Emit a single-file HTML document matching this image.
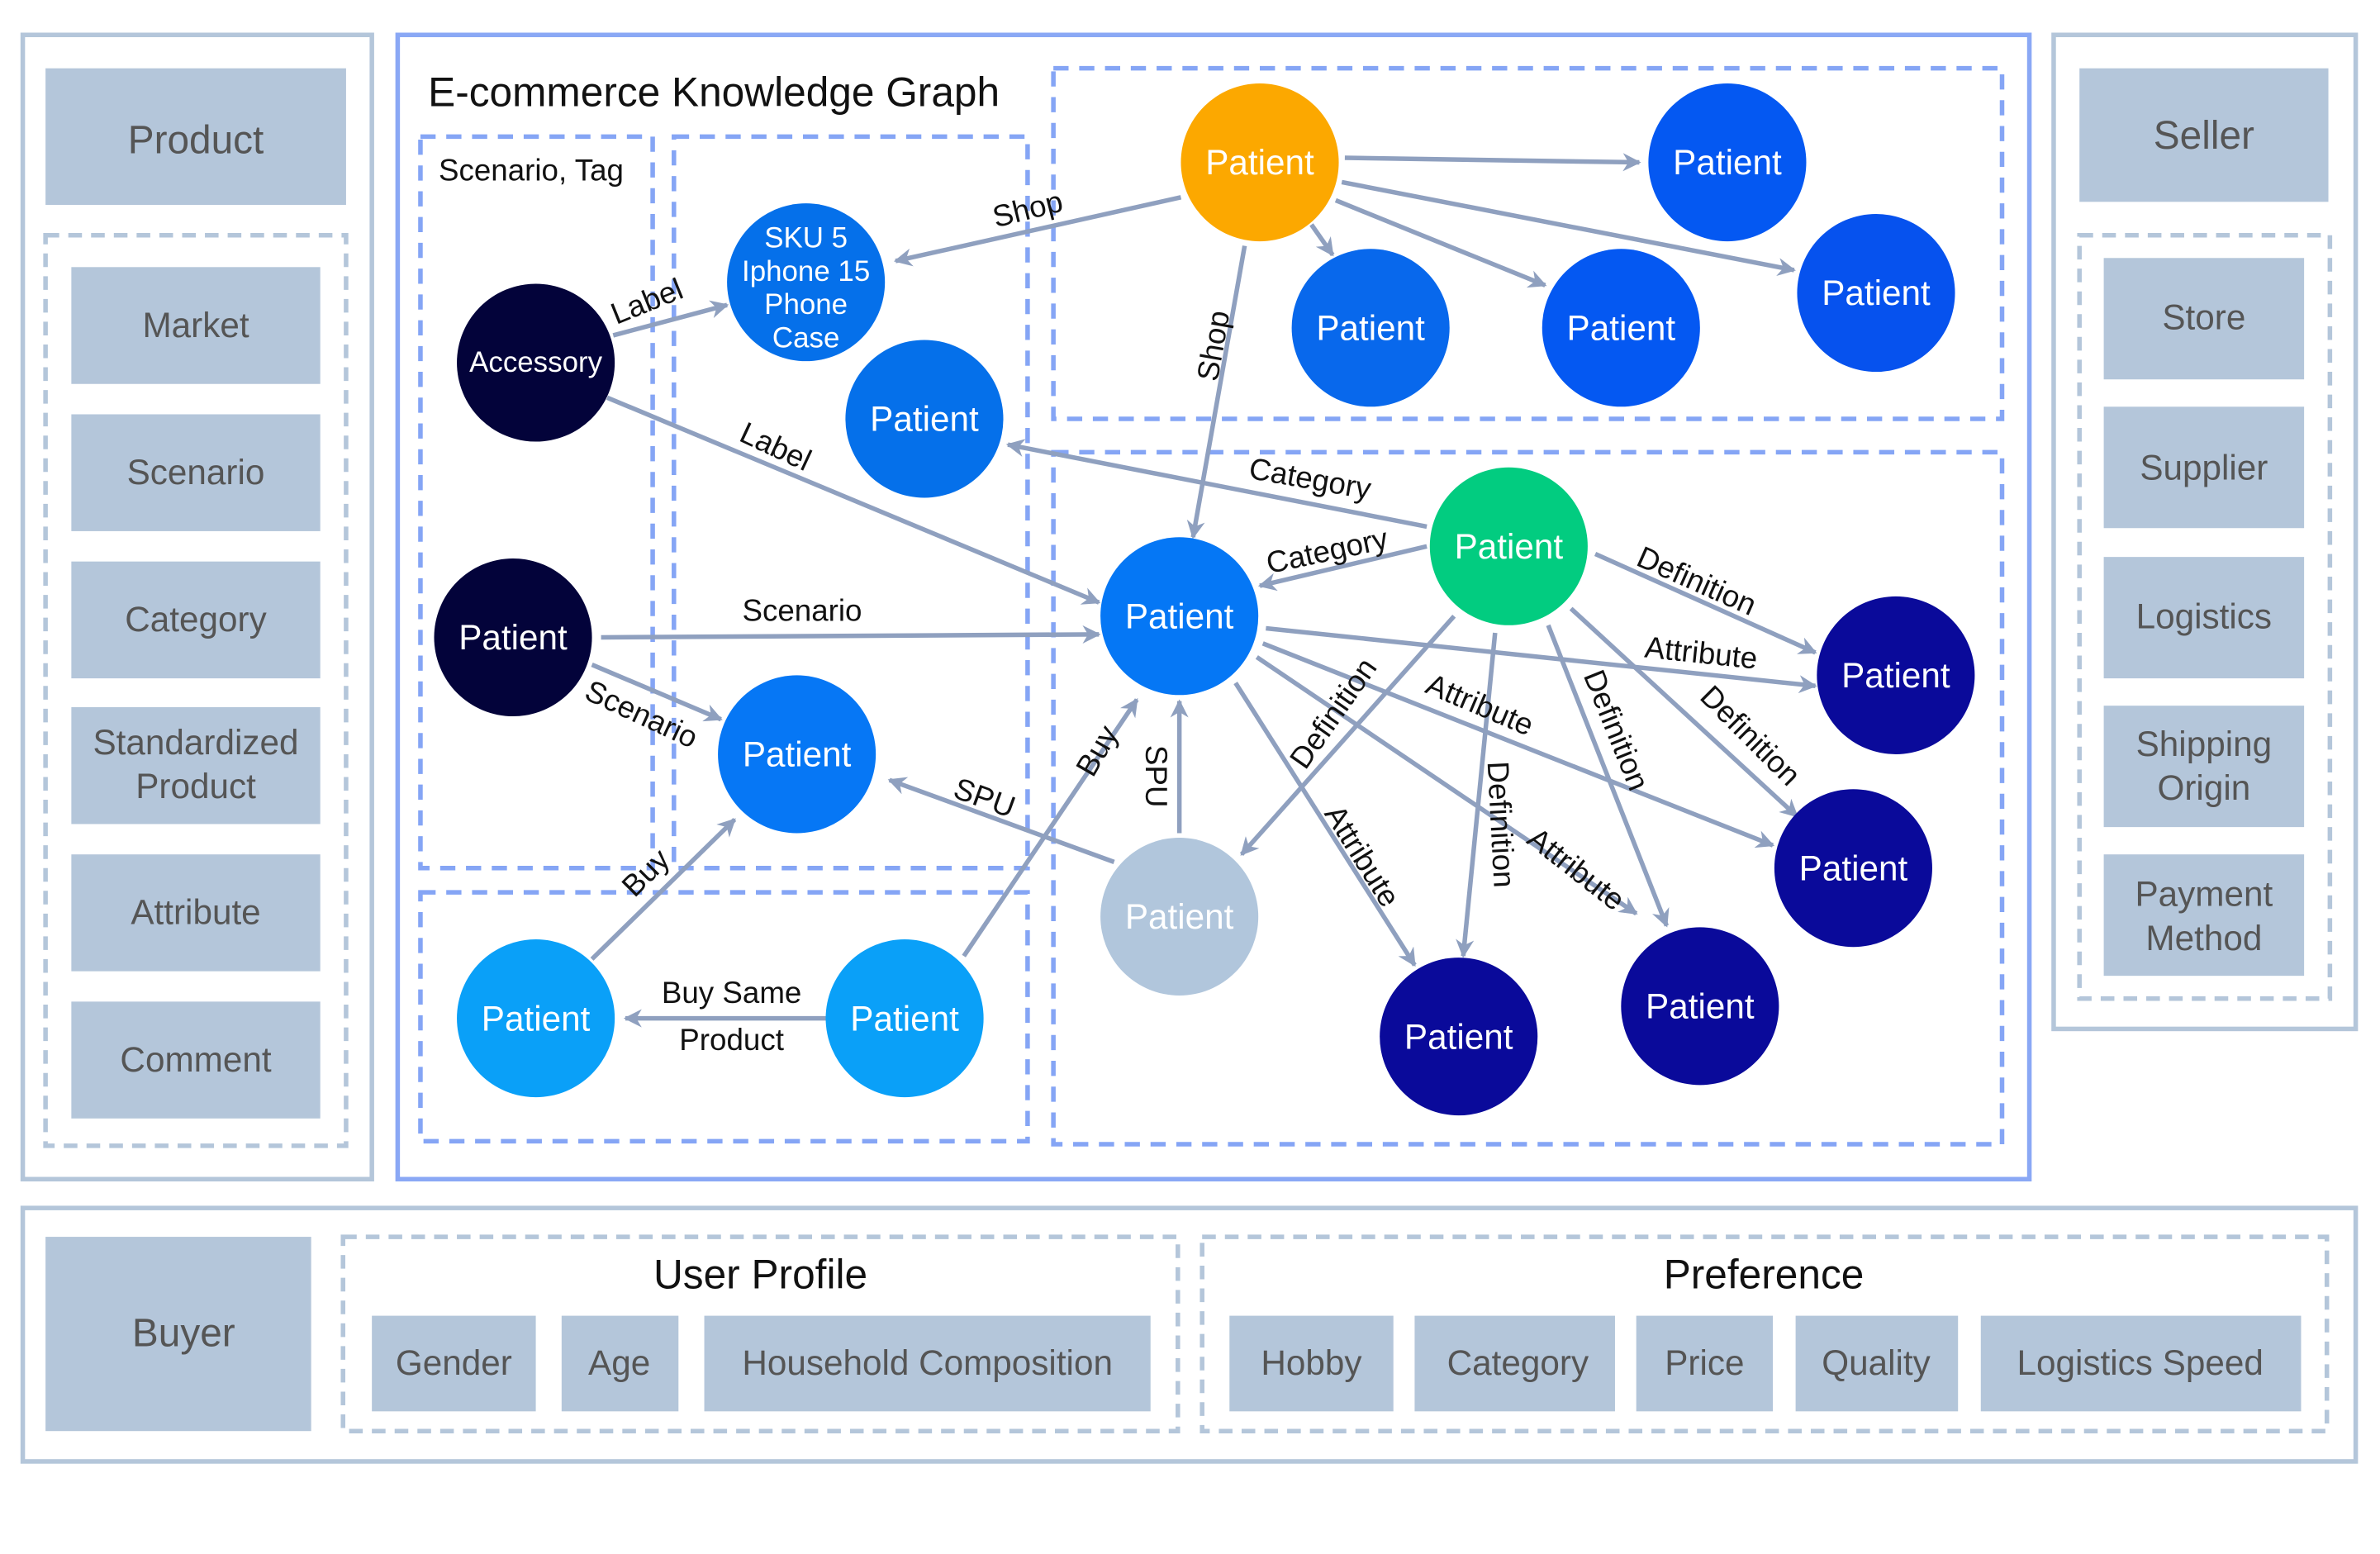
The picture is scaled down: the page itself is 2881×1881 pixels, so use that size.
<!DOCTYPE html>
<html><head><meta charset="utf-8"><style>
html,body{margin:0;padding:0;background:#fff;}
svg{display:block;}
text{font-family:"Liberation Sans",sans-serif;}
</style></head><body>
<svg width="2881" height="1881" viewBox="0 0 1568 1024" preserveAspectRatio="none" xmlns="http://www.w3.org/2000/svg">
<defs>
<marker id="a" viewBox="0 0 10 10" refX="9" refY="5" markerWidth="4" markerHeight="4" orient="auto"><path d="M0,0 L10,5 L0,10 L3,5 z" fill="#8fa0bf"/></marker>
</defs>
<rect width="1568" height="1024" fill="#fff"/>
<!-- Left panel -->
<rect x="15" y="23" width="230" height="754" fill="none" stroke="#b4c6da" stroke-width="3"/>
<rect x="30" y="45" width="198" height="90" fill="#b4c6da"/>
<text x="129" y="101" font-size="26" fill="#555" text-anchor="middle">Product</text>
<rect x="30" y="155" width="198" height="600" fill="none" stroke="#b4c6da" stroke-width="3" stroke-dasharray="9,6"/>
<g fill="#b4c6da"><rect x="47" y="176" width="164" height="77"/><rect x="47" y="273" width="164" height="77"/><rect x="47" y="370" width="164" height="77"/><rect x="47" y="466" width="164" height="77"/><rect x="47" y="563" width="164" height="77"/><rect x="47" y="660" width="164" height="77"/></g>
<g font-size="23" fill="#555" text-anchor="middle">
<text x="129" y="222">Market</text><text x="129" y="319">Scenario</text><text x="129" y="416">Category</text>
<text x="129" y="497">Standardized</text><text x="129" y="526">Product</text>
<text x="129" y="609">Attribute</text><text x="129" y="706">Comment</text></g>
<!-- Right panel -->
<rect x="1353" y="23" width="199" height="655" fill="none" stroke="#b4c6da" stroke-width="3"/>
<rect x="1370" y="45" width="164" height="88" fill="#b4c6da"/>
<text x="1452" y="98" font-size="26" fill="#555" text-anchor="middle">Seller</text>
<rect x="1370" y="155" width="165" height="503" fill="none" stroke="#b4c6da" stroke-width="3" stroke-dasharray="9,6"/>
<g fill="#b4c6da"><rect x="1386" y="170" width="132" height="80"/><rect x="1386" y="268" width="132" height="80"/><rect x="1386" y="367" width="132" height="80"/><rect x="1386" y="465" width="132" height="80"/><rect x="1386" y="563" width="132" height="80"/></g>
<g font-size="23" fill="#555" text-anchor="middle">
<text x="1452" y="217">Store</text><text x="1452" y="316">Supplier</text><text x="1452" y="414">Logistics</text>
<text x="1452" y="498">Shipping</text><text x="1452" y="527">Origin</text>
<text x="1452" y="597">Payment</text><text x="1452" y="626">Method</text></g>
<!-- Bottom panel -->
<rect x="15" y="796" width="1537" height="167" fill="none" stroke="#b4c6da" stroke-width="3"/>
<rect x="30" y="815" width="175" height="128" fill="#b4c6da"/>
<text x="121" y="887" font-size="26" fill="#555" text-anchor="middle">Buyer</text>
<rect x="226" y="815" width="550" height="128" fill="none" stroke="#b4c6da" stroke-width="3" stroke-dasharray="9,6"/>
<rect x="792" y="815" width="741" height="128" fill="none" stroke="#b4c6da" stroke-width="3" stroke-dasharray="9,6"/>
<text x="501" y="849" font-size="27" fill="#111" text-anchor="middle">User Profile</text>
<text x="1162" y="849" font-size="27" fill="#111" text-anchor="middle">Preference</text>
<g fill="#b4c6da"><rect x="245" y="867" width="108" height="63"/><rect x="370" y="867" width="77" height="63"/><rect x="464" y="867" width="294" height="63"/><rect x="810" y="867" width="108" height="63"/><rect x="932" y="867" width="132" height="63"/><rect x="1078" y="867" width="90" height="63"/><rect x="1183" y="867" width="107" height="63"/><rect x="1305" y="867" width="211" height="63"/></g>
<g font-size="23" fill="#555" text-anchor="middle">
<text x="299" y="906">Gender</text><text x="408" y="906">Age</text><text x="611" y="906">Household Composition</text>
<text x="864" y="906">Hobby</text><text x="1000" y="906">Category</text><text x="1123" y="906">Price</text><text x="1236" y="906">Quality</text><text x="1410" y="906">Logistics Speed</text></g>
<!-- Middle panel -->
<rect x="262" y="23" width="1075" height="754" fill="none" stroke="#8aa8f5" stroke-width="3"/>
<text x="282" y="70" font-size="27" fill="#111">E-commerce Knowledge Graph</text>
<g fill="none" stroke="#85a5f5" stroke-width="3" stroke-dasharray="10,7">
<rect x="277" y="90" width="153" height="482"/><rect x="444" y="90" width="233" height="482"/>
<rect x="277" y="588" width="400" height="164"/><rect x="694" y="45" width="625" height="231"/><rect x="694" y="298" width="625" height="456"/></g>
<text x="289" y="119" font-size="20" fill="#111">Scenario, Tag</text>
<!-- Edges -->
<g stroke="#8fa0bf" stroke-width="3" fill="none" marker-end="url(#a)">
<line x1="886" y1="104" x2="1080" y2="107"/>
<line x1="884" y1="120" x2="1182" y2="178"/>
<line x1="880" y1="132" x2="1018" y2="188"/>
<line x1="864" y1="148" x2="878" y2="168"/>
<line x1="778" y1="130" x2="590" y2="172"/>
<line x1="820" y1="162" x2="786" y2="354"/>
<line x1="404" y1="221" x2="479" y2="201"/>
<line x1="400" y1="262" x2="724" y2="397"/>
<line x1="940" y1="347" x2="664" y2="293"/>
<line x1="940" y1="360" x2="830" y2="386"/>
<line x1="396" y1="420" x2="724" y2="418"/>
<line x1="390" y1="438" x2="475" y2="474"/>
<line x1="734" y1="568" x2="586" y2="514"/>
<line x1="777" y1="549" x2="777" y2="462"/>
<line x1="390" y1="632" x2="484" y2="540"/>
<line x1="635" y1="630" x2="749" y2="461"/>
<line x1="546" y1="671" x2="412" y2="671"/>
<line x1="1051" y1="365" x2="1196" y2="430"/>
<line x1="834" y1="414" x2="1196" y2="452"/>
<line x1="832" y1="424" x2="1168" y2="557"/>
<line x1="1035" y1="401" x2="1184" y2="538"/>
<line x1="1020" y1="412" x2="1098" y2="610"/>
<line x1="828" y1="433" x2="1078" y2="602"/>
<line x1="985" y1="417" x2="964" y2="630"/>
<line x1="814" y1="450" x2="932" y2="636"/>
<line x1="958" y1="406" x2="818" y2="563"/>
</g>
<!-- Edge labels -->
<g font-size="20" fill="#111">
<text transform="translate(656,150) rotate(-14)">Shop</text>
<text transform="translate(802,252) rotate(-80)">Shop</text>
<text transform="translate(406,214) rotate(-22)">Label</text>
<text transform="translate(486,290) rotate(25)">Label</text>
<text transform="translate(822,315) rotate(10)">Category</text>
<text transform="translate(836,378) rotate(-12)">Category</text>
<text x="489" y="409">Scenario</text>
<text transform="translate(384,460) rotate(25)">Scenario</text>
<text transform="translate(627,525) rotate(20)">SPU</text>
<text transform="translate(755,491) rotate(90)">SPU</text>
<text transform="translate(418,592) rotate(-45)">Buy</text>
<text transform="translate(720,513) rotate(-60)">Buy</text>
<text x="482" y="661" text-anchor="middle">Buy Same</text>
<text x="482" y="692" text-anchor="middle">Product</text>
<text transform="translate(1077,372) rotate(24)">Definition</text>
<text transform="translate(1083,433) rotate(6)">Attribute</text>
<text transform="translate(938,456) rotate(23)">Attribute</text>
<text transform="translate(1119,460) rotate(45)">Definition</text>
<text transform="translate(1043,445) rotate(68)">Definition</text>
<text transform="translate(1005,555) rotate(38)">Attribute</text>
<text transform="translate(980,502) rotate(87)">Definition</text>
<text transform="translate(872,536) rotate(58)">Attribute</text>
<text transform="translate(860,508) rotate(-55)">Definition</text>
</g>
<!-- Nodes -->
<g font-size="23" fill="#fff" text-anchor="middle">
<circle cx="830" cy="107" r="52" fill="#fca800"/><text x="830" y="115">Patient</text>
<circle cx="1138" cy="107" r="52" fill="#0458f2"/><text x="1138" y="115">Patient</text>
<circle cx="1236" cy="193" r="52" fill="#0652ee"/><text x="1236" y="201">Patient</text>
<circle cx="903" cy="216" r="52" fill="#0868ec"/><text x="903" y="224">Patient</text>
<circle cx="1068" cy="216" r="52" fill="#0458f2"/><text x="1068" y="224">Patient</text>
<circle cx="531" cy="186" r="52" fill="#0570ea"/>
<g font-size="19"><text x="531" y="163">SKU 5</text><text x="531" y="185">Iphone 15</text><text x="531" y="207">Phone</text><text x="531" y="229">Case</text></g>
<circle cx="353" cy="239" r="52" fill="#03033a"/><text x="353" y="245" font-size="19">Accessory</text>
<circle cx="609" cy="276" r="52" fill="#0570ea"/><text x="609" y="284">Patient</text>
<circle cx="338" cy="420" r="52" fill="#03033a"/><text x="338" y="428">Patient</text>
<circle cx="777" cy="406" r="52" fill="#0577f5"/><text x="777" y="414">Patient</text>
<circle cx="994" cy="360" r="52" fill="#02cc80"/><text x="994" y="368">Patient</text>
<circle cx="525" cy="497" r="52" fill="#0677f5"/><text x="525" y="505">Patient</text>
<circle cx="777" cy="604" r="52" fill="#b1c6dc"/><text x="777" y="612">Patient</text>
<circle cx="353" cy="671" r="52" fill="#0aa0f8"/><text x="353" y="679">Patient</text>
<circle cx="596" cy="671" r="52" fill="#0aa0f8"/><text x="596" y="679">Patient</text>
<circle cx="1249" cy="445" r="52" fill="#0a0a9a"/><text x="1249" y="453">Patient</text>
<circle cx="1221" cy="572" r="52" fill="#0a0a9a"/><text x="1221" y="580">Patient</text>
<circle cx="1120" cy="663" r="52" fill="#0a0a9a"/><text x="1120" y="671">Patient</text>
<circle cx="961" cy="683" r="52" fill="#0a0a9a"/><text x="961" y="691">Patient</text>
</g>
</svg>
</body></html>
